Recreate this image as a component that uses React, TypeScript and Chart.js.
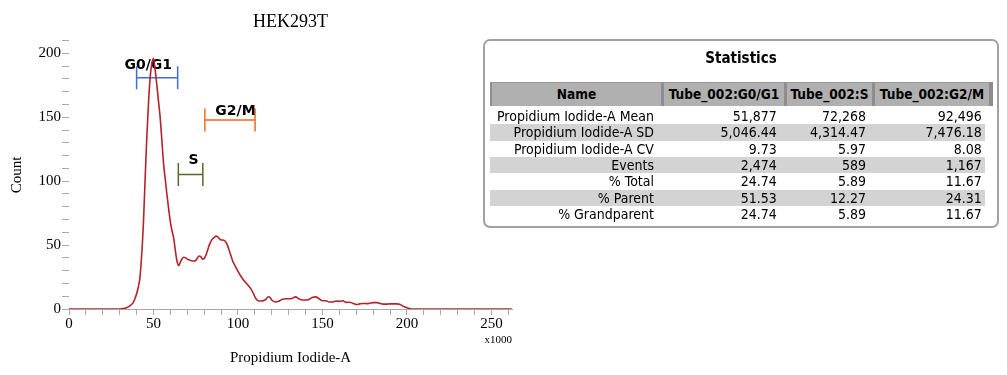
import React, { useEffect, useRef } from 'react';
import { Chart, registerables } from 'chart.js';

Chart.register(...registerables);

// Propidium Iodide-A (x1000) and histogram counts
const piValues = [
  0, 10, 20, 30, 32, 34, 36, 38, 39, 40,
  41, 42, 43, 44, 45, 46, 47, 48, 49, 50,
  51, 52, 53, 54, 55, 56, 57, 58, 59, 60,
  61, 62, 63, 64, 65, 66, 67, 68, 69, 70,
  72, 74, 75, 76, 77, 78, 79, 80, 81, 82,
  83, 84, 85, 86, 87, 88, 89, 90, 91, 92,
  93, 94, 95, 96, 97, 98, 99, 100, 102, 104,
  106, 108, 109, 110, 111, 112, 114, 116, 118, 119,
  120, 122, 124, 126, 128, 130, 132, 134, 136, 138,
  140, 142, 144, 146, 148, 150, 152, 154, 156, 158,
  160, 162, 164, 166, 168, 170, 172, 174, 176, 178,
  180, 182, 184, 186, 188, 190, 192, 194, 196, 198,
  200, 202, 204, 210, 262,
];
const counts = [
  0, 0, 0, 0, 0.3, 1, 2.5, 5, 8, 12,
  17, 25, 42, 66, 100, 133, 160, 181, 192, 196,
  187, 175, 162, 149, 131, 113, 101, 89, 78, 68,
  61, 55, 45, 37, 34, 37, 39.5, 40.5, 40, 39,
  38, 37.5, 38, 40, 41.5, 41, 39, 39.5, 42, 46,
  50, 53, 55, 56, 57, 56.5, 55, 54, 54, 53.5,
  52, 49, 45, 41, 37, 34.5, 32, 29.5, 25, 21.5,
  18.5, 15, 12.5, 9.5, 7.5, 6.5, 6.3, 7, 9.6, 9,
  7, 5.5, 6, 7.5, 8, 8, 8.2, 9.5, 8, 7,
  7, 7.5, 9, 9.5, 8, 6.5, 6.5, 5.5, 5.5, 6.3,
  6, 6.5, 5.2, 5.3, 4.5, 3.5, 4, 4.3, 4.2, 4.5,
  5, 5, 4.4, 3.8, 3.8, 4, 4, 4, 3.5, 2,
  1, 0.2, 0, 0, 0,
];

const xAxisMax = 262.144;
const yAxisMax = 210;
const xLabelTicks = [0, 50, 100, 150, 200, 250];
const yLabelTicks = [0, 50, 100, 150, 200];

// Gates (x in thousands, level in counts)
const gateNames = ['G0/G1', 'S', 'G2/M'];
const gateStart = [40, 64.7, 80.4];
const gateEnd = [64.3, 79.2, 110.1];
const gateLevel = [181, 105.3, 147.8];
const gateLabelX = [46.9, 73.7, 98.5];
const gateLabelY = [190.8, 116.5, 154.8];
const gateColors = ['#3d6ee0', '#56692b', '#f26b1d'];

// Statistics table
const statColumns = ['Name', 'Tube_002:G0/G1', 'Tube_002:S', 'Tube_002:G2/M'];
const statNames = [
  'Propidium Iodide-A Mean',
  'Propidium Iodide-A SD',
  'Propidium Iodide-A CV',
  'Events',
  '% Total',
  '% Parent',
  '% Grandparent',
];
const statDecimals = [0, 2, 2, 0, 2, 2, 2];
const statG0G1 = [51877, 5046.44, 9.73, 2474, 24.74, 51.53, 24.74];
const statS = [72268, 4314.47, 5.97, 589, 5.89, 12.27, 5.89];
const statG2M = [92496, 7476.18, 8.08, 1167, 11.67, 24.31, 11.67];

const fmt = (v: number, d: number) =>
  v.toLocaleString('en-US', { minimumFractionDigits: d, maximumFractionDigits: d });

const SERIF = "'Liberation Serif', 'Times New Roman', serif";
const SANS = "'DejaVu Sans Condensed', 'DejaVu Sans', sans-serif";

const gatePlugin = {
  id: 'gates',
  beforeDatasetsDraw(chart: any) {
    const { ctx } = chart;
    const xs = chart.scales.x;
    const ys = chart.scales.y;
    ctx.save();
    for (let i = 0; i < gateNames.length; i++) {
      const x1 = xs.getPixelForValue(gateStart[i]);
      const x2 = xs.getPixelForValue(gateEnd[i]);
      const y = ys.getPixelForValue(gateLevel[i]);
      ctx.strokeStyle = gateColors[i];
      ctx.lineWidth = 1.5;
      ctx.beginPath();
      ctx.moveTo(x1, y);
      ctx.lineTo(x2, y);
      ctx.moveTo(x1, y - 11.5);
      ctx.lineTo(x1, y + 11.5);
      ctx.moveTo(x2, y - 11.5);
      ctx.lineTo(x2, y + 11.5);
      ctx.stroke();
      ctx.fillStyle = '#000';
      ctx.font = "bold 14px 'DejaVu Sans', sans-serif";
      ctx.textAlign = 'center';
      ctx.textBaseline = 'middle';
      ctx.fillText(gateNames[i], xs.getPixelForValue(gateLabelX[i]), ys.getPixelForValue(gateLabelY[i]));
    }
    ctx.restore();
  },
  afterDraw(chart: any) {
    const { ctx } = chart;
    const xs = chart.scales.x;
    ctx.save();
    ctx.fillStyle = '#000';
    ctx.font = `11px ${SERIF}`;
    ctx.textAlign = 'right';
    ctx.textBaseline = 'middle';
    ctx.fillText('x1000', xs.right, xs.top + 31);
    ctx.restore();
  },
};

function HistogramChart() {
  const ref = useRef<HTMLCanvasElement | null>(null);
  useEffect(() => {
    if (!ref.current) return;
    const chart = new Chart(ref.current, {
      type: 'line',
      data: {
        datasets: [
          {
            data: piValues.map((x, i) => ({ x, y: counts[i] })),
            borderColor: '#b3232a',
            borderWidth: 1.6,
            pointRadius: 0,
            fill: false,
            cubicInterpolationMode: 'monotone',
          },
        ],
      },
      options: {
        animation: false,
        responsive: false,
        devicePixelRatio: 1,
        layout: { padding: { left: 0, right: 18, top: 0, bottom: 0 } },
        plugins: {
          legend: { display: false },
          tooltip: { enabled: false },
          title: {
            display: true,
            text: 'HEK293T',
            fullSize: false,
            color: '#000',
            font: { family: SERIF, size: 18, weight: 'normal' },
            padding: { top: 11, bottom: 8 },
          },
        },
        scales: {
          x: {
            type: 'linear',
            min: 0,
            max: xAxisMax,
            afterBuildTicks: (scale: any) => {
              const t = [];
              for (let v = 0; v <= 260; v += 10) t.push({ value: v });
              scale.ticks = t;
            },
            afterFit: (scale: any) => {
              scale.height = 66;
            },
            ticks: {
              autoSkip: false,
              maxRotation: 0,
              padding: 0,
              color: '#000',
              font: { family: SERIF, size: 15 },
              callback: (v: any) => (xLabelTicks.includes(Number(v)) ? String(v) : ''),
            },
            grid: {
              display: true,
              drawOnChartArea: false,
              drawTicks: true,
              tickLength: 6,
              color: '#a8a8a8',
            },
            border: { display: true, color: '#a8a8a8' },
            title: {
              display: true,
              text: 'Propidium Iodide-A',
              color: '#000',
              font: { family: SERIF, size: 15 },
              padding: { top: 0, bottom: 8 },
            },
          },
          y: {
            type: 'linear',
            min: 0,
            max: yAxisMax,
            afterBuildTicks: (scale: any) => {
              const t = [];
              for (let v = 0; v <= yAxisMax; v += 10) t.push({ value: v });
              scale.ticks = t;
            },
            afterFit: (scale: any) => {
              scale.width = 69;
            },
            ticks: {
              autoSkip: false,
              padding: 1,
              color: '#000',
              font: { family: SERIF, size: 15 },
              callback: (v: any) => (yLabelTicks.includes(Number(v)) ? String(v) : ''),
            },
            grid: {
              display: true,
              drawOnChartArea: false,
              drawTicks: true,
              tickLength: 7,
              color: '#a8a8a8',
            },
            border: { display: false },
            title: {
              display: true,
              text: 'Count',
              color: '#000',
              font: { family: SERIF, size: 15 },
              padding: { top: 8, bottom: 0 },
            },
          },
        },
      },
      plugins: [gatePlugin],
    } as any);
    return () => chart.destroy();
  }, []);
  return (
    <canvas
      ref={ref}
      width={530}
      height={375}
      style={{ position: 'absolute', left: 0, top: 0, width: 530, height: 375 }}
    />
  );
}

const colEdges = [490, 663, 786, 874, 993];
const colTextRight = [654, 776.7, 866, 981.7];
const rowTop = 107.8;
const rowH = 16.4;

function StatsTable() {
  const valueCols = [statG0G1, statS, statG2M];
  return (
    <>
      <div
        style={{
          position: 'absolute',
          left: 483,
          top: 39,
          width: 516,
          height: 189,
          boxSizing: 'border-box',
          border: '2px solid #a2a2a2',
          borderRadius: 7,
          background: '#fff',
        }}
      />
      <div
        style={{
          position: 'absolute',
          left: 483,
          width: 516,
          top: 48,
          height: 20,
          lineHeight: '20px',
          textAlign: 'center',
          fontFamily: SANS,
          fontWeight: 'bold',
          fontSize: 15,
          color: '#000',
        }}
      >
        Statistics
      </div>
      {statColumns.map((c, j) => (
        <div
          key={c}
          style={{
            position: 'absolute',
            left: colEdges[j],
            top: 82,
            width: colEdges[j + 1] - colEdges[j],
            height: 24,
            boxSizing: 'border-box',
            background: '#b0b0b0',
            borderTop: '1px solid #9a9a9a',
            borderLeft: j === 0 ? '2px solid #8e8e8e' : '1px solid #8e8e8e',
            borderRight: j === statColumns.length - 1 ? '4px solid #8c8c8c' : '2px solid #8e8e8e',
            lineHeight: '22px',
            textAlign: 'center',
            fontFamily: SANS,
            fontWeight: 'bold',
            fontSize: 13.6,
            color: '#000',
            whiteSpace: 'nowrap',
          }}
        >
          {c}
        </div>
      ))}
      {statNames.map((n, i) => (
        <React.Fragment key={n}>
          {i % 2 === 1 && (
            <div
              style={{
                position: 'absolute',
                left: 490,
                top: rowTop + i * rowH,
                width: 495,
                height: rowH,
                background: '#d3d3d3',
              }}
            />
          )}
          {[n, ...valueCols.map((vc) => fmt(vc[i], statDecimals[i]))].map((txt, j) => (
            <div
              key={j}
              style={{
                position: 'absolute',
                left: colEdges[j],
                width: colTextRight[j] - colEdges[j],
                top: rowTop + i * rowH,
                height: rowH,
                lineHeight: `${rowH}px`,
                textAlign: 'right',
                fontFamily: SANS,
                fontSize: 14,
                color: '#000',
                whiteSpace: 'nowrap',
              }}
            >
              {txt}
            </div>
          ))}
        </React.Fragment>
      ))}
    </>
  );
}

export default function App() {
  return (
    <div style={{ position: 'absolute', left: 0, top: 0, width: 1007, height: 375, background: '#fff' }}>
      <HistogramChart />
      <StatsTable />
    </div>
  );
}
